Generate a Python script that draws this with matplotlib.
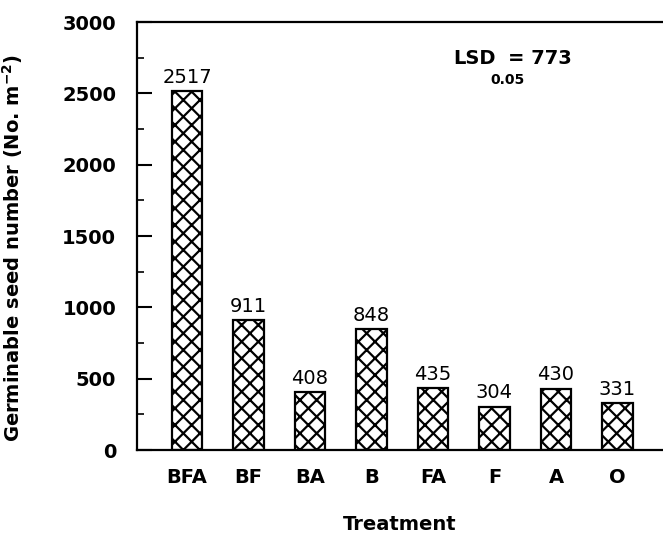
import numpy as np
import matplotlib
matplotlib.use('Agg')
import matplotlib.pyplot as plt
from matplotlib.ticker import MultipleLocator

treatments = ['BFA', 'BF', 'BA', 'B', 'FA', 'F', 'A', 'O']
seed_number = [2517, 911, 408, 848, 435, 304, 430, 331]
lsd_value = 773

plt.rcParams['font.family'] = 'DejaVu Sans'
plt.rcParams['hatch.linewidth'] = 1.6

fig = plt.figure(figsize=(6.63, 5.35), dpi=100)
ax = fig.add_axes([137/663, 85/535, 526/663, 428/535])

x = np.arange(len(treatments))
bars = ax.bar(x, seed_number, width=0.5, color='white', edgecolor='black',
              linewidth=1.6, hatch='xx')
ax.bar_label(bars, labels=[str(v) for v in seed_number], padding=3, fontsize=14)

ax.set_xlim(-0.813, 7.74)
ax.set_ylim(0, 3000)
ax.yaxis.set_major_locator(MultipleLocator(500))
ax.yaxis.set_minor_locator(MultipleLocator(250))
ax.set_xticks(x)
ax.set_xticklabels(treatments, fontsize=14, fontweight='bold')
for t in ax.get_yticklabels():
    t.set_fontweight('bold')
ax.tick_params(axis='y', which='major', direction='in', length=11, width=1.5,
               labelsize=14, pad=15)
ax.tick_params(axis='y', which='minor', direction='in', length=5, width=1.2)
ax.tick_params(axis='x', length=0, pad=13)

ax.spines['right'].set_visible(False)
for s in ['left', 'top', 'bottom']:
    ax.spines[s].set_linewidth(1.6)

ax.set_xlabel('Treatment', fontsize=14, fontweight='bold', labelpad=20)
fig.text(13/663, 1 - 248/535, 'Germinable seed number (No. m$^{\\mathbf{-2}}$)',
         rotation=90, ha='center', va='center', fontsize=14, fontweight='bold')

fig.text(453/663, 1 - 59/535, 'LSD', fontsize=14, fontweight='bold',
         ha='left', va='center')
fig.text(490/663, 1 - 80/535, '0.05', fontsize=10, fontweight='bold',
         ha='left', va='center')
fig.text(508/663, 1 - 59/535, '= ' + str(lsd_value), fontsize=14, fontweight='bold',
         ha='left', va='center')

fig.savefig('out.png', dpi=100)
